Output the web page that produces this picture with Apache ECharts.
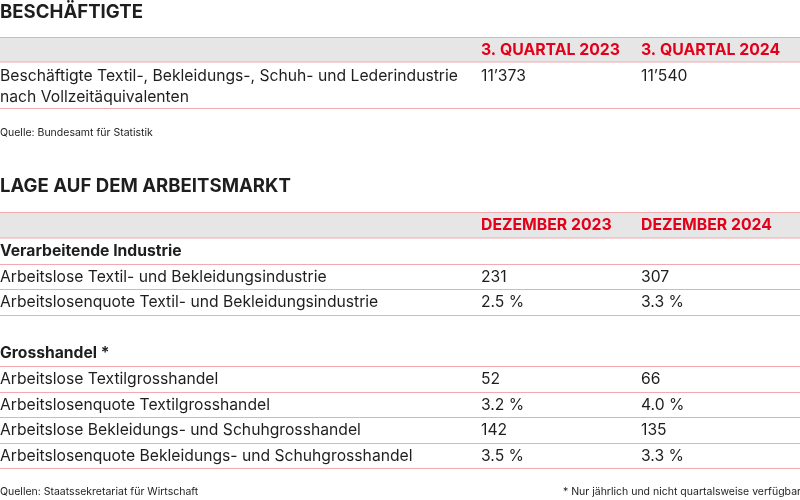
<!DOCTYPE html>
<html><head><meta charset="utf-8">
<script src="https://cdn.jsdelivr.net/npm/echarts@6/dist/echarts.min.js"></script>
<style>html,body{margin:0;padding:0;background:#fff}#c{width:800px;height:500px}</style>
</head><body><div id="c"></div>
<script>
var title1 = 'BESCHÄFTIGTE';
var headers1 = ['3. QUARTAL 2023', '3. QUARTAL 2024'];
var rows1 = [
  {label: ['Beschäftigte Textil-, Bekleidungs-, Schuh- und Lederindustrie', 'nach Vollzeitäquivalenten'], values: ['11’373', '11’540']}
];
var source1 = 'Quelle: Bundesamt für Statistik';

var title2 = 'LAGE AUF DEM ARBEITSMARKT';
var headers2 = ['DEZEMBER 2023', 'DEZEMBER 2024'];
var rows2 = [
  {type: 'group', label: 'Verarbeitende Industrie'},
  {type: 'data', label: 'Arbeitslose Textil- und Bekleidungsindustrie', values: ['231', '307']},
  {type: 'data', label: 'Arbeitslosenquote Textil- und Bekleidungsindustrie', values: ['2.5 %', '3.3 %']},
  {type: 'spacer'},
  {type: 'group', label: 'Grosshandel *'},
  {type: 'data', label: 'Arbeitslose Textilgrosshandel', values: ['52', '66']},
  {type: 'data', label: 'Arbeitslosenquote Textilgrosshandel', values: ['3.2 %', '4.0 %']},
  {type: 'data', label: 'Arbeitslose Bekleidungs- und Schuhgrosshandel', values: ['142', '135']},
  {type: 'data', label: 'Arbeitslosenquote Bekleidungs- und Schuhgrosshandel', values: ['3.5 %', '3.3 %']}
];
var source2 = 'Quellen: Staatssekretariat für Wirtschaft';
var note2 = '* Nur jährlich und nicht quartalsweise verfügbar';

var FONT = 'Inter, "Noto Sans", sans-serif';
var TXT = '#1e1e1e', RED = '#e3001b', LINE = '#f4a9ae', BAND = '#e6e6e6';
var COLX = [481, 641];
var W = 800;
var BODY = 15.7, HEAD = 15.8, TITLE = 18.6, SMALL = 10.5;
var els = [];

function text(x, y, s, opt) {
  opt = opt || {};
  els.push({type: 'text', x: x, y: y, silent: true, style: {
    text: s, fill: opt.fill || TXT, font: (opt.weight || 'normal') + ' ' + (opt.size || BODY) + 'px ' + FONT,
    textAlign: opt.align || 'left', textVerticalAlign: 'middle'
  }});
}
function hline(y) {
  els.push({type: 'line', silent: true, shape: {x1: 0, y1: y, x2: W, y2: y}, style: {stroke: LINE, lineWidth: 1}});
}
function band(y0, y1) {
  els.push({type: 'rect', silent: true, shape: {x: 0, y: y0, width: W, height: y1 - y0}, style: {fill: BAND}});
}

// Table 1
text(0, 12, title1, {weight: 'bold', size: TITLE});
band(37.5, 62);
hline(37.5); hline(62);
headers1.forEach(function (h, i) { text(COLX[i], 50, h, {weight: 'bold', fill: RED, size: HEAD}); });
var y = 62;
rows1.forEach(function (r) {
  var h = 46;
  r.label.forEach(function (l, k) { text(0, y + 14 + k * 21, l); });
  r.values.forEach(function (v, i) { text(COLX[i], y + 14, v); });
  y += h; hline(y + 0.5);
});
text(0, 133, source1, {size: SMALL});

// Table 2
text(0, 186, title2, {weight: 'bold', size: TITLE});
band(212.5, 238);
hline(212.5); hline(238);
headers2.forEach(function (h, i) { text(COLX[i], 225.5, h, {weight: 'bold', fill: RED, size: HEAD}); });
y = 238;
var RH = 25.6;
rows2.forEach(function (r) {
  var cy = y + RH / 2 + 0.5;
  if (r.type === 'group') {
    text(0, cy, r.label, {weight: 'bold'});
  } else if (r.type === 'data') {
    text(0, cy, r.label);
    r.values.forEach(function (v, i) { text(COLX[i], cy, v); });
  }
  y += RH;
  if (r.type !== 'spacer') hline(Math.round(y) + 0.5);
});
text(0, 492, source2, {size: SMALL});
text(801, 492, note2, {size: SMALL, align: 'right'});

var chart = echarts.init(document.getElementById('c'), null, {renderer: 'canvas'});
chart.setOption({animation: false, graphic: {elements: els}});
</script></body></html>
